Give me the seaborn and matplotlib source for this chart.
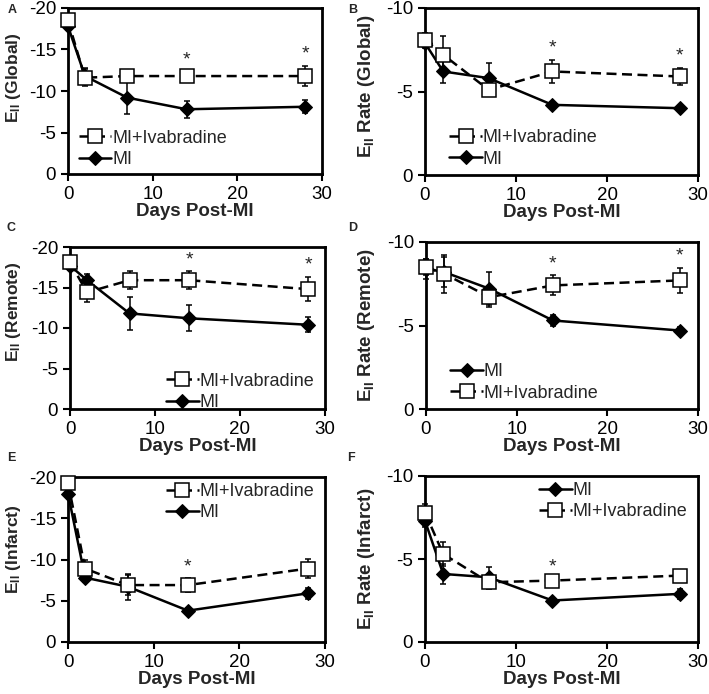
import matplotlib
matplotlib.use("Agg")
import matplotlib.pyplot as plt
import pandas as pd
import seaborn as sns

# data (values are negative, axes inverted)
days = [0, 2, 7, 14, 28]

global_mi = [-17.8, -11.8, -9.2, -7.8, -8.1]
global_mi_err = [0.4, 1.0, 2.0, 1.0, 0.8]
global_iva = [-18.5, -11.6, -11.8, -11.8, -11.8]
global_iva_err = [0.5, 1.0, 0.5, 0.5, 1.2]

rate_global_mi = [-7.9, -6.2, -5.8, -4.2, -4.0]
rate_global_mi_err = [0.3, 0.7, 0.9, 0.2, 0.1]
rate_global_iva = [-8.1, -7.2, -5.1, -6.2, -5.9]
rate_global_iva_err = [0.4, 1.1, 0.3, 0.7, 0.5]

remote_mi = [-17.7, -15.9, -11.8, -11.2, -10.4]
remote_mi_err = [0.5, 0.8, 2.0, 1.6, 0.9]
remote_iva = [-18.1, -14.4, -15.9, -15.9, -14.8]
remote_iva_err = [0.5, 1.2, 1.1, 1.1, 1.5]

rate_remote_mi = [-8.4, -8.2, -7.2, -5.3, -4.7]
rate_remote_mi_err = [0.6, 0.9, 1.0, 0.3, 0.2]
rate_remote_iva = [-8.5, -8.1, -6.7, -7.4, -7.7]
rate_remote_iva_err = [0.5, 1.15, 0.6, 0.6, 0.75]

infarct_mi = [-18.0, -7.8, -6.7, -3.8, -5.9]
infarct_mi_err = [0.4, 0.5, 1.6, 0.3, 0.7]
infarct_iva = [-19.3, -8.9, -6.9, -6.9, -8.9]
infarct_iva_err = [0.3, 1.0, 1.2, 0.8, 1.2]

rate_infarct_mi = [-7.3, -4.1, -3.9, -2.5, -2.9]
rate_infarct_mi_err = [0.4, 0.6, 0.6, 0.15, 0.3]
rate_infarct_iva = [-7.8, -5.3, -3.6, -3.7, -4.0]
rate_infarct_iva_err = [0.5, 0.7, 0.4, 0.1, 0.3]

sns.set_style("ticks")
plt.rcParams['font.family'] = ['Liberation Sans', 'DejaVu Sans']
plt.rcParams['axes.unicode_minus'] = False
plt.rcParams['mathtext.fontset'] = 'custom'
plt.rcParams['mathtext.rm'] = 'Liberation Sans:bold'
plt.rcParams['mathtext.bf'] = 'Liberation Sans:bold'

W, H = 709, 694
fig = plt.figure(figsize=(W / 100, H / 100), dpi=100)


def make_axes(left, right, top, bottom):
    return fig.add_axes([left / W, 1 - bottom / H, (right - left) / W, (bottom - top) / H])


panels = [
    dict(box=(68, 322, 8, 174), letter="A", lpos=(12, 10), name="(Global)", ymin=-20,
         mi=global_mi, mi_err=global_mi_err, iva=global_iva, iva_err=global_iva_err,
         stars=[14, 28], mi_first=False, loc="lower left", anchor=(0.0, -0.03), ysize=12.5, ly=0.58, lx=23),
    dict(box=(425, 698, 8, 175), letter="B", lpos=(353, 10), name="Rate (Global)", ymin=-10,
         mi=rate_global_mi, mi_err=rate_global_mi_err, iva=rate_global_iva, iva_err=rate_global_iva_err,
         stars=[14, 28], mi_first=False, loc="lower left", anchor=(0.05, -0.02), ysize=13.5, ly=0.53, lx=377),
    dict(box=(70, 325, 247, 409), letter="C", lpos=(11, 228), name="(Remote)", ymin=-20,
         mi=remote_mi, mi_err=remote_mi_err, iva=remote_iva, iva_err=remote_iva_err,
         stars=[14, 28], mi_first=False, loc="lower right", anchor=(1.0, -0.08), ysize=12.5, ly=0.6, lx=23),
    dict(box=(426, 698, 242, 409), letter="D", lpos=(353, 228), name="Rate (Remote)", ymin=-10,
         mi=rate_remote_mi, mi_err=rate_remote_mi_err, iva=rate_remote_iva, iva_err=rate_remote_iva_err,
         stars=[14, 28], mi_first=True, loc="lower left", anchor=(0.05, -0.02), ysize=13.5, ly=0.5, lx=377),
    dict(box=(68, 325, 477, 642), letter="E", lpos=(11, 458), name="(Infarct)", ymin=-20,
         mi=infarct_mi, mi_err=infarct_mi_err, iva=infarct_iva, iva_err=infarct_iva_err,
         stars=[14], mi_first=False, loc="upper right", anchor=(1.0, 1.03), ysize=12.5, ly=0.56, lx=23),
    dict(box=(425, 698, 476, 642), letter="F", lpos=(351, 458), name="Rate (Infarct)", ymin=-10,
         mi=rate_infarct_mi, mi_err=rate_infarct_mi_err, iva=rate_infarct_iva, iva_err=rate_infarct_iva_err,
         stars=[14], mi_first=True, loc="upper right", anchor=(1.0, 1.03), ysize=13.5, ly=0.5, lx=377),
]

for p in panels:
    ax = make_axes(*p["box"])
    df = pd.DataFrame({
        "Day": days * 2,
        "Value": p["iva"] + p["mi"],
        "Group": ["MI+Ivabradine"] * len(days) + ["MI"] * len(days),
    })
    # error bars first, behind the markers
    ax.errorbar(days, p["iva"], yerr=p["iva_err"], fmt="none", ecolor="black",
                elinewidth=1.1, capsize=2.5, capthick=1.1, clip_on=False, zorder=2)
    ax.errorbar(days, p["mi"], yerr=p["mi_err"], fmt="none", ecolor="black",
                elinewidth=1.1, capsize=2.5, capthick=1.1, clip_on=False, zorder=2)
    sns.lineplot(data=df, x="Day", y="Value", hue="Group", style="Group",
                 hue_order=["MI+Ivabradine", "MI"], style_order=["MI+Ivabradine", "MI"],
                 palette={"MI+Ivabradine": "black", "MI": "black"},
                 dashes={"MI+Ivabradine": (4, 2.2), "MI": ""},
                 markers={"MI+Ivabradine": "s", "MI": "D"},
                 linewidth=1.8, markersize=9, ax=ax, legend=False, zorder=3, clip_on=False)
    # style markers: open squares, filled diamonds
    lines = ax.get_lines()
    iva_line = [l for l in lines if l.get_marker() == "s"][0]
    mi_line = [l for l in lines if l.get_marker() == "D"][0]
    iva_line.set_markerfacecolor("white")
    iva_line.set_markeredgecolor("black")
    iva_line.set_markeredgewidth(1.1)
    iva_line.set_markersize(9.5)
    mi_line.set_markerfacecolor("black")
    mi_line.set_markeredgecolor("black")
    mi_line.set_markersize(7)
    iva_line.set_zorder(4)

    ax.set_xlim(0, 30)
    ax.set_ylim(0, p["ymin"])
    ax.set_xticks([0, 10, 20, 30])
    ax.set_yticks(list(range(0, p["ymin"] - 1, -5)))
    ax.tick_params(labelsize=13.5, width=1.5, length=5, direction="out", colors="black")
    for s in ax.spines.values():
        s.set_visible(True)
        s.set_linewidth(2)
        s.set_color("black")
    ax.set_xlabel("Days Post-MI", fontsize=13.5, fontweight="bold", labelpad=0)
    ax.set_ylabel(r"$\mathrm{E_{II}}$ " + p["name"], fontsize=p["ysize"], fontweight="bold")
    left, right = p["box"][0], p["box"][1]
    ax.yaxis.set_label_coords((p["lx"] - left) / (right - left), p["ly"])

    # significance stars above the upper error bar
    for d in p["stars"]:
        i = days.index(d)
        top = min(p["iva"][i] - p["iva_err"][i], p["mi"][i] - p["mi_err"][i])
        ax.text(d, top - abs(p["ymin"]) * 0.02, "*", ha="center", va="bottom", fontsize=14)

    order = [mi_line, iva_line] if p["mi_first"] else [iva_line, mi_line]
    labels = ["MI" if l is mi_line else "MI+Ivabradine" for l in order]
    ax.legend(order, labels, loc=p["loc"], bbox_to_anchor=p["anchor"], frameon=False,
              fontsize=13, handlelength=1.8, handletextpad=0.05, labelspacing=0.25,
              borderaxespad=0.2)

    fig.text(p["lpos"][0] / W, 1 - p["lpos"][1] / H, p["letter"],
             fontsize=9, fontweight="bold", va="center", ha="center")

fig.savefig("out.png", dpi=100)
